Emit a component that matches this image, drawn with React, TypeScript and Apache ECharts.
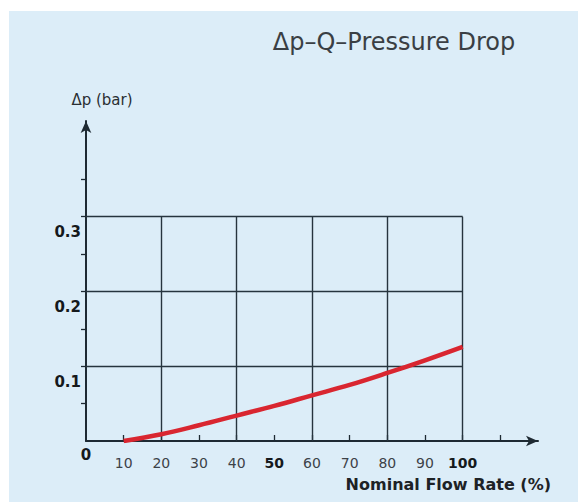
import React, { useEffect, useRef } from "react";
import * as echarts from "echarts";

const flowRate = [10, 20, 30, 40, 50, 60, 70, 80, 90, 100];
const pressureDrop = [0, 0.009, 0.021, 0.034, 0.047, 0.061, 0.075, 0.091, 0.108, 0.126];
const xTickLabels = [0, 10, 20, 30, 40, 50, 60, 70, 80, 90, 100];
const xTicks = [10, 20, 30, 40, 50, 60, 70, 80, 90, 100, 110];
const yTickLabels = [0.1, 0.2, 0.3];
const yTicks = [0.05, 0.1, 0.15, 0.2, 0.25, 0.3, 0.35];
const gridX = [20, 40, 60, 80, 100];
const gridY = [0.1, 0.2, 0.3];
const boldX = [50, 100];
const titleText = "Δp–Q–Pressure Drop";
const yName = "Δp (bar)";
const xName = "Nominal Flow Rate (%)";

export default function App() {
  const ref = useRef<HTMLDivElement>(null);
  useEffect(() => {
    if (!ref.current) return;
    const chart = echarts.init(ref.current, null, { renderer: "svg" });
    const font = "DejaVu Sans";
    const gridLines: any[] = [];
    gridX.forEach((x) => gridLines.push([{ coord: [x, 0] }, { coord: [x, 0.3] }]));
    gridY.forEach((y) => gridLines.push([{ coord: [0, y] }, { coord: [100, y] }]));
    chart.setOption({
      animation: false,
      backgroundColor: "transparent",
      title: {
        text: titleText,
        left: 385,
        top: 19,
        padding: 0,
        textAlign: "center",
        textStyle: { fontFamily: font, fontSize: 24, fontWeight: "normal", color: "#3a3f44" },
      },
      grid: { left: 77, top: 110, width: 452, height: 320, containLabel: false },
      xAxis: {
        type: "value",
        min: 0,
        max: 120,
        name: xName,
        nameLocation: "end",
        nameGap: 13,
        nameTextStyle: {
          fontFamily: font,
          fontSize: 16,
          fontWeight: "bold",
          color: "#1d2226",
          align: "right",
          verticalAlign: "top",
          padding: [35, 0, 0, 0],
        },
        axisLine: {
          show: true,
          symbol: ["none", "arrow"],
          symbolSize: [8, 12],
          lineStyle: { color: "#1e2a33", width: 2 },
        },
        axisTick: {
          show: true,
          inside: true,
          length: 6,
          customValues: xTicks,
          lineStyle: { color: "#1e2a33", width: 1.3 },
        },
        axisLabel: {
          margin: 7,
          customValues: xTickLabels,
          fontFamily: font,
          fontSize: 14,
          formatter: (v: number) =>
            v === 0 ? `{z|0}` : boldX.includes(v) ? `{b|${v}}` : `{n|${v}}`,
          rich: {
            z: { fontFamily: font, fontSize: 15, fontWeight: "bold", color: "#15191c", lineHeight: 14 },
            b: { fontFamily: font, fontSize: 14, fontWeight: "bold", color: "#15191c", lineHeight: 30 },
            n: { fontFamily: font, fontSize: 14, fontWeight: "normal", color: "#3c4248", lineHeight: 30 },
          },
        },
        splitLine: { show: false },
      },
      yAxis: {
        type: "value",
        min: 0,
        max: 0.428,
        name: yName,
        nameLocation: "end",
        nameGap: 14,
        nameTextStyle: {
          fontFamily: font,
          fontSize: 15,
          color: "#2a2f33",
          align: "center",
          padding: [0, 0, 0, 32],
        },
        axisLine: {
          show: true,
          symbol: ["none", "arrow"],
          symbolSize: [8, 12],
          lineStyle: { color: "#1e2a33", width: 2 },
        },
        axisTick: {
          show: true,
          inside: false,
          length: 5,
          customValues: yTicks,
          lineStyle: { color: "#1e2a33", width: 1.3 },
        },
        axisLabel: {
          margin: 5,
          customValues: yTickLabels,
          fontFamily: font,
          fontSize: 15,
          fontWeight: "bold",
          color: "#15191c",
          verticalAlign: "top",
          padding: [8, 0, 0, 0],
          formatter: (v: number) => v.toFixed(1),
        },
        splitLine: { show: false },
      },
      series: [
        {
          type: "line",
          data: [],
          z: 1,
          silent: true,
          markLine: {
            silent: true,
            symbol: ["none", "none"],
            label: { show: false },
            lineStyle: { color: "#26343e", width: 1.4, type: "solid" },
            data: gridLines,
          },
        },
        {
          type: "line",
          z: 5,
          data: flowRate.map((x, i) => [x, pressureDrop[i]]),
          smooth: 0.4,
          showSymbol: false,
          lineStyle: { color: "#d92630", width: 4.5 },
        },
      ],
    });
    return () => chart.dispose();
  }, []);
  return (
    <div
      style={{
        position: "absolute",
        left: 9,
        top: 11,
        width: 569,
        height: 491,
        background: "#dcedf8",
      }}
    >
      <div ref={ref} style={{ width: 569, height: 491 }} />
    </div>
  );
}
